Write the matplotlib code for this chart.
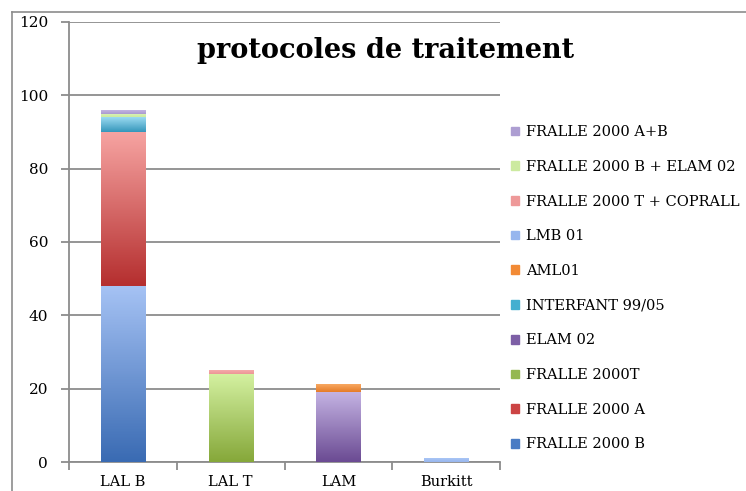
import numpy as np
import matplotlib.pyplot as plt
from matplotlib.colors import LinearSegmentedColormap
from matplotlib.patches import Patch
from matplotlib.lines import Line2D

# data
categories = ['LAL B', 'LAL T', 'LAM', 'Burkitt']
protocols = ['FRALLE 2000 B', 'FRALLE 2000 A', 'FRALLE 2000T', 'ELAM 02',
             'INTERFANT 99/05', 'AML01', 'LMB 01', 'FRALLE 2000 T + COPRALL',
             'FRALLE 2000 B + ELAM 02', 'FRALLE 2000 A+B']
fralle_b = [48, 0, 0, 0]
fralle_a = [42, 0, 0, 0]
fralle_t = [0, 24, 0, 0]
elam_02 = [0, 0, 19, 0]
interfant = [4, 0, 0, 0]
aml01 = [0, 0, 2, 0]
lmb_01 = [0, 0, 0, 1]
fralle_t_coprall = [0, 1, 0, 0]
fralle_b_elam = [1, 0, 0, 0]
fralle_a_b = [1, 0, 0, 0]
series = [fralle_b, fralle_a, fralle_t, elam_02, interfant, aml01,
          lmb_01, fralle_t_coprall, fralle_b_elam, fralle_a_b]

# (bottom colour, top colour, legend colour)
colors = [('#3a6bb3', '#a5c2f4', '#4a7cc4'),
          ('#b52f2f', '#f6a3a1', '#cc4444'),
          ('#86a83a', '#d3f0a0', '#95b851'),
          ('#6b4b93', '#c3b2e2', '#7d5fa6'),
          ('#3597bb', '#9bdaf1', '#44afd0'),
          ('#e57c28', '#f8a862', '#f28a35'),
          ('#97b6ee', '#a9c5f5', '#97b6ee'),
          ('#ec9696', '#f5aaaa', '#ee9999'),
          ('#cbeaa0', '#dcf4b8', '#cceaa0'),
          ('#ab9bcf', '#c2b3e2', '#ad9ed2')]

plt.rcParams['font.family'] = ['DejaVu Serif']

fig = plt.figure(figsize=(7.46, 4.91), dpi=100)
ax = fig.add_axes([69/746, 1-462/491, (500-69)/746, 440/491])

x = np.arange(len(categories))
bottom = np.zeros(len(categories))
handles = []
for name, vals, (c0, c1, cl) in zip(protocols, series, colors):
    vals = np.array(vals, float)
    bars = ax.bar(x, vals, 0.41, bottom=bottom, color='none', zorder=3)
    cmap = LinearSegmentedColormap.from_list(name, [c0, c1])
    for b, v in zip(bars, vals):
        if v <= 0:
            continue
        x0, y0 = b.get_x(), b.get_y()
        ax.imshow(np.linspace(0, 1, 64).reshape(-1, 1), cmap=cmap,
                  extent=[x0, x0 + b.get_width(), y0, y0 + b.get_height()],
                  aspect='auto', origin='lower', zorder=3)
    bottom += vals
    handles.append(Patch(color=cl))

ax.set_xlim(-0.5, len(categories) - 0.5)
ax.set_ylim(0, 120)
ax.set_yticks(range(0, 121, 20))
ax.yaxis.grid(True, color='#8c8c8c', lw=1.3)
ax.set_axisbelow(True)
for s in ['top', 'right']:
    ax.spines[s].set_visible(False)
for s in ['left', 'bottom']:
    ax.spines[s].set_color('#8c8c8c')
    ax.spines[s].set_linewidth(1.3)

ax.set_xticks(np.arange(len(categories) + 1) - 0.5)
ax.set_xticklabels([])
ax.set_xticks(x, minor=True)
ax.set_xticklabels(categories, minor=True, fontsize=10.5)
ax.tick_params(axis='x', which='minor', length=0, pad=9)
ax.tick_params(axis='both', which='major', length=6, width=1.3, color='#8c8c8c',
               labelsize=11)
ax.tick_params(axis='y', pad=9)

fig.text(386/746, 1-50/491, 'protocoles de traitement', ha='center', va='center',
         fontsize=19.5, fontweight='bold')

fig.legend(handles[::-1], protocols[::-1], loc='upper left',
           bbox_to_anchor=(498/746, 1-112/491), frameon=False,
           handlelength=0.55, handleheight=0.55, handletextpad=0.5,
           labelspacing=1.42, fontsize=10.5)

# outer chart frame (cropped on right and bottom)
fig.add_artist(Line2D([12/746, 12/746], [0, 1-12/491], color='#8c8c8c', lw=1.2))
fig.add_artist(Line2D([12/746, 1], [1-12/491, 1-12/491], color='#8c8c8c', lw=1.2))

fig.savefig('out.png', dpi=100)
